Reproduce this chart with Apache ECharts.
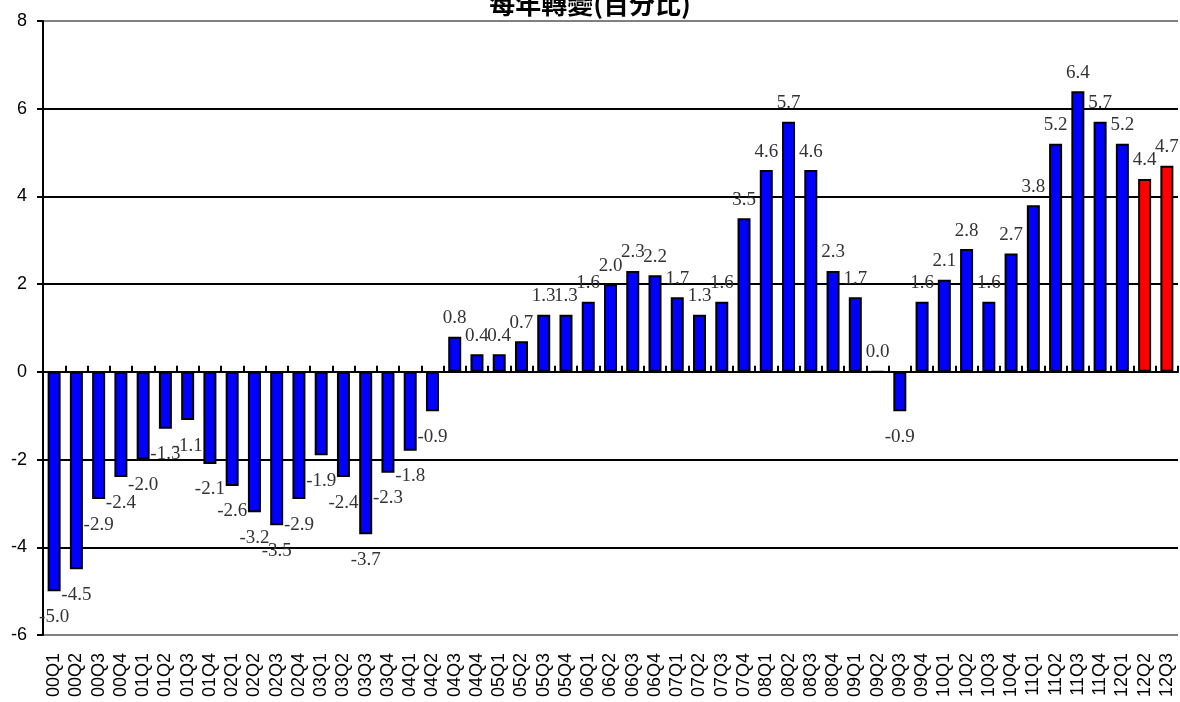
<!DOCTYPE html>
<html>
<head>
<meta charset="utf-8">
<script src="https://cdn.jsdelivr.net/npm/echarts@6/dist/echarts.min.js"></script>
<style>html,body{margin:0;padding:0;background:#fff;}#c{width:1180px;height:702px;}</style>
</head>
<body>
<div id="c"></div>
<script>
const titleText = '每年轉變(百分比)';
const categories = ['00Q1','00Q2','00Q3','00Q4','01Q1','01Q2','01Q3','01Q4','02Q1','02Q2','02Q3','02Q4',
  '03Q1','03Q2','03Q3','03Q4','04Q1','04Q2','04Q3','04Q4','05Q1','05Q2','05Q3','05Q4',
  '06Q1','06Q2','06Q3','06Q4','07Q1','07Q2','07Q3','07Q4','08Q1','08Q2','08Q3','08Q4',
  '09Q1','09Q2','09Q3','09Q4','10Q1','10Q2','10Q3','10Q4','11Q1','11Q2','11Q3','11Q4',
  '12Q1','12Q2','12Q3'];
const values = [-5.0,-4.5,-2.9,-2.4,-2.0,-1.3,-1.1,-2.1,-2.6,-3.2,-3.5,-2.9,
  -1.9,-2.4,-3.7,-2.3,-1.8,-0.9,0.8,0.4,0.4,0.7,1.3,1.3,
  1.6,2.0,2.3,2.2,1.7,1.3,1.6,3.5,4.6,5.7,4.6,2.3,
  1.7,0.0,-0.9,1.6,2.1,2.8,1.6,2.7,3.8,5.2,6.4,5.7,
  5.2,4.4,4.7];
const highlightedCategories = ['12Q2','12Q3'];
const yTicks = [-6,-4,-2,0,2,4,6,8];

const chart = echarts.init(document.getElementById('c'));
chart.setOption({
  animation: false,
  backgroundColor: '#fff',
  graphic: [{
    type: 'text', left: 'center', top: -9, silent: true,
    style: { text: titleText, font: 'bold 26px "Noto Sans CJK TC"', fill: '#000' }
  }],
  grid: { left: 43, right: 2, top: 21, bottom: 67, containLabel: false },
  xAxis: [{
    type: 'category', data: categories, position: 'bottom',
    axisLine: { show: false, onZero: false },
    axisTick: { show: false },
    axisLabel: { rotate: 90, interval: 0, margin: 18, fontFamily: 'Liberation Sans', fontSize: 18, color: '#000' },
    splitLine: { show: false }
  }, {
    type: 'category', data: categories, position: 'bottom',
    axisLine: { show: true, onZero: true, lineStyle: { color: '#000', width: 2 } },
    axisTick: { show: true, inside: true, length: 6, interval: 0, lineStyle: { color: '#000', width: 2 } },
    axisLabel: { show: false },
    splitLine: { show: false }
  }],
  yAxis: {
    type: 'value', min: yTicks[0], max: yTicks[yTicks.length - 1], interval: 2,
    axisLine: { show: true, lineStyle: { color: '#000', width: 2 } },
    axisTick: { show: true, length: 6, lineStyle: { color: '#000', width: 2 } },
    axisLabel: { margin: 16, fontFamily: 'Liberation Sans', fontSize: 18, color: '#000' },
    splitLine: { show: true, lineStyle: { color: ['#808080','#000','#000','#000','#000','#000','#000','#808080'], width: 2 } }
  },
  series: [{
    type: 'bar', xAxisIndex: 0, yAxisIndex: 0, barWidth: 13,
    data: values.map(v => ({
      value: v,
      label: { position: v >= 0 ? 'top' : 'bottom', distance: v >= 0 ? 9 : 16 }
    })),
    itemStyle: {
      color: p => highlightedCategories.includes(categories[p.dataIndex]) ? '#ff0000' : '#0000ff',
      borderColor: '#000', borderWidth: 2
    },
    label: {
      show: true,
      formatter: p => p.value.toFixed(1),
      fontFamily: 'Liberation Serif', fontSize: 19, color: '#333'
    }
  }]
});
</script>
</body>
</html>
